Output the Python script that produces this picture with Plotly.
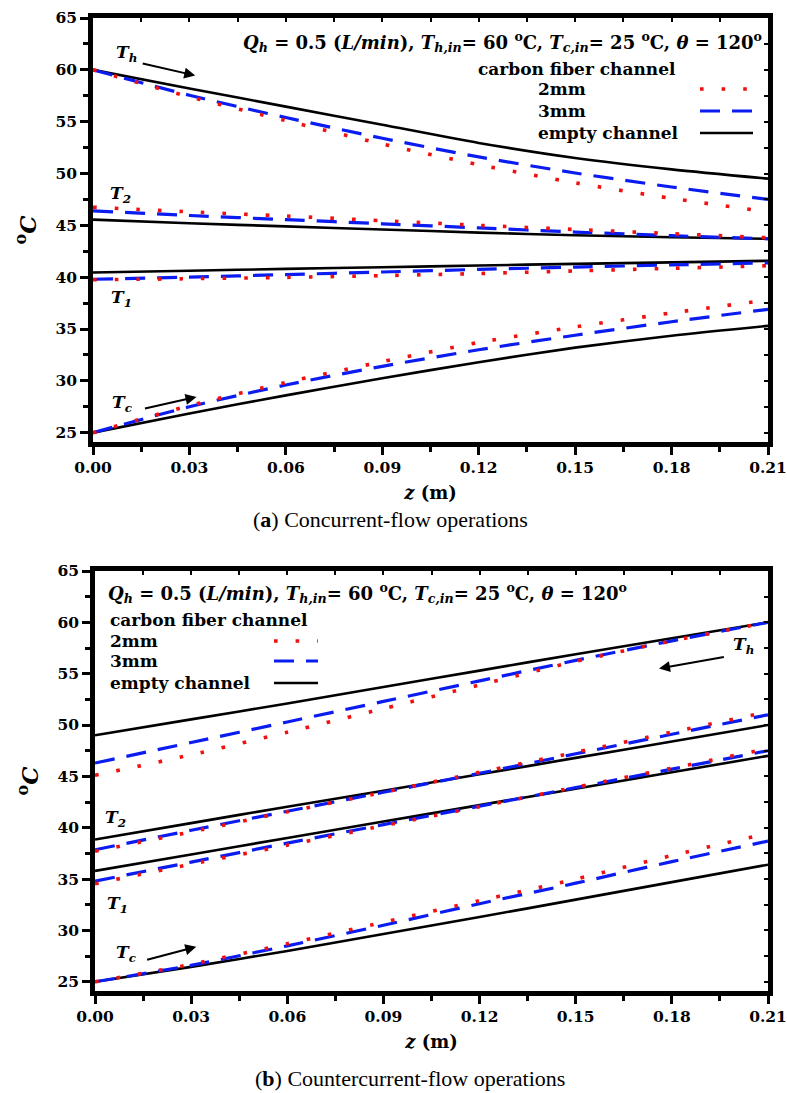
import plotly.graph_objects as go

# axial position along the channel (m)
z = [0.00, 0.03, 0.06, 0.09, 0.12, 0.15, 0.18, 0.21]

# ---- (a) concurrent flow, temperatures in degC ----
co_th_2mm = [60.0, 57.4, 55.1, 52.85, 50.85, 49.1, 47.6, 46.3]
co_th_3mm = [60.0, 57.55, 55.4, 53.4, 51.6, 50.05, 48.7, 47.5]
co_th_empty = [60.0, 58.2, 56.45, 54.7, 52.95, 51.5, 50.4, 49.5]

co_t2_2mm = [46.75, 46.3, 45.9, 45.45, 45.0, 44.6, 44.2, 43.8]
co_t2_3mm = [46.4, 45.95, 45.55, 45.15, 44.75, 44.35, 44.0, 43.7]
co_t2_empty = [45.55, 45.2, 44.9, 44.6, 44.3, 44.05, 43.85, 43.7]

co_t1_2mm = [39.75, 39.85, 39.98, 40.15, 40.35, 40.6, 40.85, 41.1]
co_t1_3mm = [39.8, 40.0, 40.25, 40.5, 40.75, 40.97, 41.18, 41.38]
co_t1_empty = [40.45, 40.62, 40.8, 40.96, 41.13, 41.28, 41.43, 41.58]

co_tc_2mm = [25.0, 27.6, 29.85, 31.85, 33.7, 35.2, 36.55, 37.8]
co_tc_3mm = [25.0, 27.5, 29.6, 31.4, 33.0, 34.4, 35.7, 36.9]
co_tc_empty = [25.0, 26.85, 28.6, 30.25, 31.8, 33.2, 34.35, 35.3]

# ---- (b) countercurrent flow, temperatures in degC ----
cc_th_2mm = [45.1, 47.1, 49.3, 51.6, 53.9, 56.2, 58.2, 60.0]
cc_th_3mm = [46.3, 48.3, 50.3, 52.3, 54.3, 56.3, 58.2, 60.0]
cc_th_empty = [49.0, 50.55, 52.1, 53.7, 55.3, 56.9, 58.45, 60.0]

cc_t2_2mm = [37.7, 39.6, 41.55, 43.45, 45.4, 47.35, 49.3, 51.3]
cc_t2_3mm = [37.85, 39.75, 41.6, 43.45, 45.3, 47.2, 49.1, 51.0]
cc_t2_empty = [38.85, 40.45, 42.05, 43.6, 45.2, 46.8, 48.4, 50.0]

cc_t1_2mm = [34.55, 36.45, 38.3, 40.2, 42.05, 43.95, 45.8, 47.7]
cc_t1_3mm = [34.8, 36.65, 38.5, 40.3, 42.1, 43.9, 45.7, 47.5]
cc_t1_empty = [35.8, 37.4, 39.0, 40.6, 42.2, 43.8, 45.4, 47.0]

cc_tc_2mm = [25.0, 26.7, 28.7, 30.8, 32.9, 35.0, 37.3, 39.45]
cc_tc_3mm = [25.0, 26.6, 28.5, 30.5, 32.6, 34.6, 36.7, 38.7]
cc_tc_empty = [25.0, 26.45, 28.0, 29.65, 31.3, 33.0, 34.7, 36.4]

# tick positions and labels
x_ticks = [0.00, 0.03, 0.06, 0.09, 0.12, 0.15, 0.18, 0.21]
x_tick_text = ["0.00", "0.03", "0.06", "0.09", "0.12", "0.15", "0.18", "0.21"]
y_ticks = [25, 30, 35, 40, 45, 50, 55, 60, 65]
y_tick_text = ["25", "30", "35", "40", "45", "50", "55", "60", "65"]

case_names = ["empty channel", "3mm", "2mm"]

W, H = 787, 1093
TICK_FONT = dict(family="DejaVu Serif", size=15.5, color="black")
TEXT_FONT = dict(family="DejaVu Serif", size=17, color="black")
COND_FONT = dict(family="DejaVu Serif", size=18, color="black")

styles = {
    "empty channel": dict(color="black", width=2.6, dash="solid"),
    "3mm": dict(color="#0a1cf0", width=3.2, dash="20px,12px"),
    "2mm": dict(color="#f01010", width=3.6, dash="3.6px,18px"),
}


def fx(px):
    return px / W


def fy(py):
    return 1 - py / H


def bold(s):
    return "<b>%s</b>" % s


fig = go.Figure()

panels = [
    dict(xa="x", ya="y",
         series={"empty channel": [co_th_empty, co_t2_empty, co_t1_empty, co_tc_empty],
                 "3mm": [co_th_3mm, co_t2_3mm, co_t1_3mm, co_tc_3mm],
                 "2mm": [co_th_2mm, co_t2_2mm, co_t1_2mm, co_tc_2mm]}),
    dict(xa="x2", ya="y2",
         series={"empty channel": [cc_th_empty, cc_t2_empty, cc_t1_empty, cc_tc_empty],
                 "3mm": [cc_th_3mm, cc_t2_3mm, cc_t1_3mm, cc_tc_3mm],
                 "2mm": [cc_th_2mm, cc_t2_2mm, cc_t1_2mm, cc_tc_2mm]}),
]

for p in panels:
    for name in case_names:
        for yv in p["series"][name]:
            fig.add_trace(go.Scatter(
                x=z, y=yv, mode="lines", name=name, showlegend=False,
                line=dict(shape="spline", smoothing=0.7, **styles[name]),
                xaxis=p["xa"], yaxis=p["ya"], hoverinfo="skip"))

# invisible traces that carry the inward top/right tick axes
for xa, ya in [("x3", "y3"), ("x4", "y4")]:
    fig.add_trace(go.Scatter(x=[None], y=[None], xaxis=xa, yaxis=ya,
                             showlegend=False, hoverinfo="skip"))

xr = [0, 0.21]
yr = [24.1, 65]

dom_a_x = [fx(93), fx(768)]
dom_a_y = [fy(442), fy(18)]
dom_b_x = [fx(95), fx(768)]
dom_b_y = [fy(991), fy(571)]


def xaxis_main(domain, anchor):
    return dict(domain=domain, anchor=anchor, range=xr, automargin=False,
                tickmode="array", tickvals=x_ticks,
                ticktext=[bold(t) for t in x_tick_text],
                ticklabeloverflow="allow",
                ticks="outside", ticklen=8, tickwidth=3,
                tickcolor="black", showline=True, linewidth=4.5, linecolor="black",
                mirror=True, showgrid=False, zeroline=False, tickfont=TICK_FONT,
                minor=dict(dtick=0.015, tick0=0, ticks="outside", ticklen=5,
                           tickwidth=2.5, tickcolor="black", showgrid=False),
                title=dict(text="<b><i>z</i> (m)</b>",
                           font=dict(family="DejaVu Serif", size=18, color="black"),
                           standoff=12))


def yaxis_main(domain, anchor):
    return dict(domain=domain, anchor=anchor, range=yr, automargin=False,
                tickmode="array", tickvals=y_ticks,
                ticktext=[bold(t) for t in y_tick_text],
                ticklabeloverflow="allow",
                ticks="outside", ticklen=8, tickwidth=3, tickcolor="black",
                showline=True, linewidth=4.5, linecolor="black", mirror=True,
                showgrid=False, zeroline=False, tickfont=TICK_FONT,
                minor=dict(dtick=2.5, tick0=25, ticks="outside", ticklen=5,
                           tickwidth=2.5, tickcolor="black", showgrid=False),
                title=dict(text="<b><sup>o</sup><i>C</i></b>",
                           font=dict(family="DejaVu Serif", size=23, color="black"),
                           standoff=14))


def xaxis_top(over, anchor):
    return dict(overlaying=over, anchor=anchor, side="top", range=xr, dtick=0.015,
                tick0=0, automargin=False,
                ticks="inside", ticklen=4, tickwidth=2, tickcolor="black",
                showticklabels=False, showline=False, showgrid=False, zeroline=False)


def yaxis_right(over, anchor):
    return dict(overlaying=over, anchor=anchor, side="right", range=yr, dtick=2.5,
                tick0=25, automargin=False, ticks="inside", ticklen=4, tickwidth=2,
                tickcolor="black", showticklabels=False, showline=False,
                showgrid=False, zeroline=False)


fig.update_layout(
    template="none",
    width=W, height=H,
    margin=dict(l=0, r=0, t=0, b=0, pad=0),
    paper_bgcolor="white", plot_bgcolor="white",
    showlegend=False,
    xaxis=xaxis_main(dom_a_x, "y"),
    yaxis=yaxis_main(dom_a_y, "x"),
    xaxis2=xaxis_main(dom_b_x, "y2"),
    yaxis2=yaxis_main(dom_b_y, "x2"),
    xaxis3=xaxis_top("x", "y"),
    yaxis3=yaxis_right("y", "x"),
    xaxis4=xaxis_top("x2", "y2"),
    yaxis4=yaxis_right("y2", "x2"),
)

ann = []
shapes = []

cond = ("<b><i>Q</i><sub><i>h</i></sub> = 0.5 (<i>L/min</i>), "
        "<i>T</i><sub><i>h,in</i></sub>= 60 <sup>o</sup>C, "
        "<i>T</i><sub><i>c,in</i></sub>= 25 <sup>o</sup>C, "
        "<i>θ</i> = 120<sup>o</sup></b>")

# operating-condition line in each panel
ann.append(dict(text=cond, xref="paper", yref="paper", x=fx(764), y=fy(42),
                xanchor="right", yanchor="middle", showarrow=False, font=COND_FONT))
ann.append(dict(text=cond, xref="paper", yref="paper", x=fx(106), y=fy(593),
                xanchor="left", yanchor="middle", showarrow=False, font=COND_FONT))


def legend_block(text_x, head_x, rows_y, sample_x0, sample_x1):
    ann.append(dict(text=bold("carbon fiber channel"), xref="paper", yref="paper",
                    x=fx(head_x), y=fy(rows_y[0]), xanchor="left", yanchor="middle",
                    showarrow=False, font=TEXT_FONT))
    for name, py in zip(["2mm", "3mm", "empty channel"], rows_y[1:]):
        ann.append(dict(text=bold(name), xref="paper", yref="paper", x=fx(text_x),
                        y=fy(py), xanchor="left", yanchor="middle", showarrow=False,
                        font=TEXT_FONT))
        st = styles[name]
        shapes.append(dict(type="line", xref="paper", yref="paper",
                           x0=fx(sample_x0), x1=fx(sample_x1), y0=fy(py), y1=fy(py),
                           line=dict(color=st["color"], width=st["width"],
                                     dash=st["dash"])))


legend_block(536, 476, [69, 89, 111, 133], 700, 753)
legend_block(108, 108, [620, 641, 661, 683], 274, 318)


def tlabel(sub):
    return "<b><i>T</i><sub><i>%s</i></sub></b>" % sub


LBL_FONT = dict(family="DejaVu Serif", size=17, color="black")

# curve labels and flow-direction arrows, panel (a)
for sub, xv, yv in [("h", 0.0105, 61.6), ("2", 0.0085, 48.0),
                    ("1", 0.0088, 37.9), ("c", 0.0092, 27.8)]:
    ann.append(dict(text=tlabel(sub), x=xv, y=yv, xref="x", yref="y",
                    showarrow=False, font=LBL_FONT))
for (x0, y0, x1, y1) in [(0.0150, 60.65, 0.0318, 59.45), (0.0157, 27.3, 0.0322, 28.45)]:
    ann.append(dict(text="", x=x1, y=y1, ax=x0, ay=y0, xref="x", yref="y",
                    axref="x", ayref="y", showarrow=True, arrowhead=2,
                    arrowsize=1.1, arrowwidth=2, arrowcolor="black"))

# curve labels and flow-direction arrows, panel (b)
for sub, xv, yv in [("h", 0.2025, 57.7), ("2", 0.0064, 40.9),
                    ("1", 0.0070, 32.5), ("c", 0.0098, 27.8)]:
    ann.append(dict(text=tlabel(sub), x=xv, y=yv, xref="x2", yref="y2",
                    showarrow=False, font=LBL_FONT))
for (x0, y0, x1, y1) in [(0.1967, 56.65, 0.1760, 55.5), (0.0158, 27.1, 0.0316, 28.4)]:
    ann.append(dict(text="", x=x1, y=y1, ax=x0, ay=y0, xref="x2", yref="y2",
                    axref="x2", ayref="y2", showarrow=True, arrowhead=2,
                    arrowsize=1.1, arrowwidth=2, arrowcolor="black"))

# sub-figure captions
CAP_FONT = dict(family="Liberation Serif", size=22, color="black")
ann.append(dict(text="(<b>a</b>) Concurrent-flow operations", xref="paper", yref="paper",
                x=fx(390), y=fy(519), xanchor="center", yanchor="middle",
                showarrow=False, font=CAP_FONT))
ann.append(dict(text="(<b>b</b>) Countercurrent-flow operations", xref="paper",
                yref="paper", x=fx(410), y=fy(1078), xanchor="center", yanchor="middle",
                showarrow=False, font=CAP_FONT))

fig.update_layout(annotations=ann, shapes=shapes)

fig.write_html("out.html")
